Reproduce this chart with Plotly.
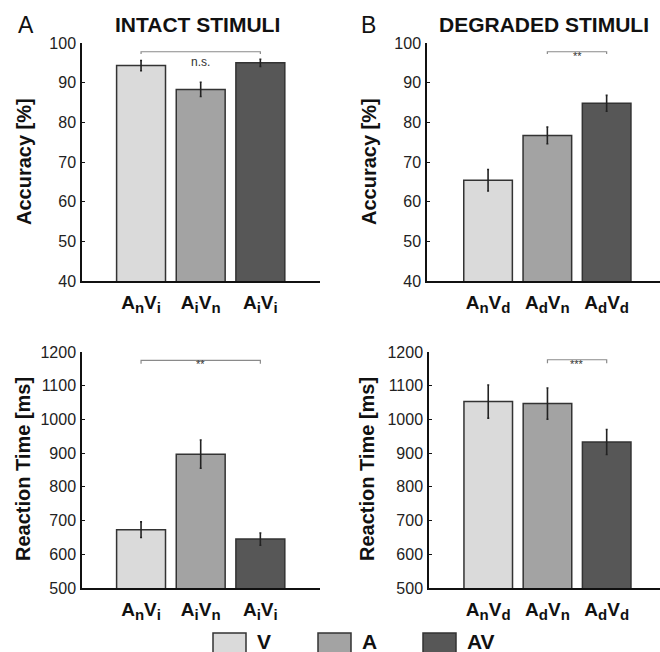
import plotly.graph_objects as go

# ---------------- data ----------------
cond_intact = [("A", "n", "V", "i"), ("A", "i", "V", "n"), ("A", "i", "V", "i")]
cond_degraded = [("A", "n", "V", "d"), ("A", "d", "V", "n"), ("A", "d", "V", "d")]
positions = [0, 1, 2]

acc_intact = [94.3, 88.3, 95.0]
acc_intact_err = [1.3, 1.8, 0.9]
acc_degraded = [65.4, 76.7, 84.8]
acc_degraded_err = [2.7, 2.1, 2.0]
rt_intact = [673, 897, 645]
rt_intact_err = [23, 42, 18]
rt_degraded = [1053, 1047, 933]
rt_degraded_err = [49, 46, 37]

legend_labels = ["V", "A", "AV"]
bar_colors = ["#dadada", "#a3a3a3", "#575757"]

acc_ticks = [40, 50, 60, 70, 80, 90, 100]
rt_ticks = [500, 600, 700, 800, 900, 1000, 1100, 1200]

# significance: (axis idx, from, to, bracket y, end y, label, label y)
sig = [
    (1, 0, 2, 97.8, 97.2, "n.s.", 95.3),
    (2, 1, 2, 97.8, 97.2, "**", 96.6),
    (3, 0, 2, 1175, 1165, "**", 1163),
    (4, 1, 2, 1177, 1167, "***", 1165),
]

W, H = 660, 652
FONT = "Liberation Sans, Arial, sans-serif"


def sublabel(parts):
    a, s1, b, s2 = parts
    sub = '<sub><span style="font-size:15px">{}</span></sub>'
    return a + sub.format(s1) + b + sub.format(s2)


def px_x(p):
    return p / W


def px_y(p):
    return 1 - p / H


fig = go.Figure()

panels = [
    (1, positions, acc_intact, acc_intact_err),
    (2, positions, acc_degraded, acc_degraded_err),
    (3, positions, rt_intact, rt_intact_err),
    (4, positions, rt_degraded, rt_degraded_err),
]

for idx, xs, ys, es in panels:
    sfx = "" if idx == 1 else str(idx)
    fig.add_trace(go.Bar(
        x=xs, y=ys, width=0.82,
        marker=dict(color=bar_colors, line=dict(color="#333333", width=1.5)),
        error_y=dict(type="data", array=es, visible=True, color="#222222",
                     thickness=1.6, width=1),
        xaxis="x" + sfx, yaxis="y" + sfx, showlegend=False, hoverinfo="skip",
    ))

# axis domains (pixels)
dom = {
    1: dict(x=(82, 320), y=(43, 281), xr=[-0.99, 3.0]),
    2: dict(x=(427, 660), y=(43, 281), xr=[-1.03, 2.9]),
    3: dict(x=(82, 320), y=(352, 588), xr=[-0.99, 3.0]),
    4: dict(x=(429, 660), y=(352, 588), xr=[-1.0, 2.9]),
}

for idx, d in dom.items():
    sfx = "" if idx == 1 else str(idx)
    labels = cond_intact if idx in (1, 3) else cond_degraded
    ticks = acc_ticks if idx in (1, 2) else rt_ticks
    yr = [40, 100] if idx in (1, 2) else [500, 1200]
    fig.update_layout(**{
        "xaxis" + sfx: dict(
            domain=[px_x(d["x"][0]), px_x(d["x"][1])], range=d["xr"],
            anchor="y" + sfx, showline=True, linecolor="#111111", linewidth=1.5,
            showgrid=False, zeroline=False, ticks="",
            tickvals=positions, ticktext=[sublabel(l) for l in labels],
            tickfont=dict(family=FONT, size=19, color="#111111", weight="bold"),
            ticklabelstandoff=3, fixedrange=True, automargin=False,
        ),
        "yaxis" + sfx: dict(
            domain=[px_y(d["y"][1]), px_y(d["y"][0])], range=yr,
            anchor="x" + sfx, showline=True, linecolor="#111111", linewidth=1.5,
            showgrid=False, zeroline=False, ticks="inside", ticklen=3,
            tickwidth=1.2, tickcolor="#111111",
            tickvals=ticks, ticktext=[str(t) for t in ticks],
            tickfont=dict(family=FONT, size=16, color="#222222"),
            ticklabelstandoff=1, fixedrange=True, automargin=False,
        ),
    })

shapes = []
annotations = []
for idx, x0, x1, yb, ye, lab, ly in sig:
    sfx = "" if idx == 1 else str(idx)
    shapes.append(dict(
        type="path", xref="x" + sfx, yref="y" + sfx,
        path=f"M {x0},{ye} L {x0},{yb} L {x1},{yb} L {x1},{ye}",
        line=dict(color="#8a8a8a", width=1.2),
    ))
    annotations.append(dict(
        x=(x0 + x1) / 2, y=ly, xref="x" + sfx, yref="y" + sfx, text=lab,
        showarrow=False, font=dict(family=FONT, size=12 if lab == "n.s." else 11, color="#333333"),
    ))

# y-axis titles
for text, xc, yc in [("Accuracy [%]", 24, 162), ("Accuracy [%]", 369, 162),
                     ("Reaction Time [ms]", 23, 469), ("Reaction Time [ms]", 367, 469)]:
    annotations.append(dict(
        x=px_x(xc), y=px_y(yc), xref="paper", yref="paper", text=text, textangle=-90,
        showarrow=False, xanchor="center", yanchor="middle",
        font=dict(family=FONT, size=20, color="#111111", weight="bold"),
    ))

# panel titles & letters
for text, xc, yc, size, bold in [("INTACT STIMULI", 197, 24, 21, True),
                                 ("DEGRADED STIMULI", 544, 24, 21, True),
                                 ("A", 26, 25, 23, False), ("B", 368, 25, 23, False)]:
    annotations.append(dict(
        x=px_x(xc), y=px_y(yc), xref="paper", yref="paper", text=text,
        showarrow=False, xanchor="center", yanchor="middle",
        font=dict(family=FONT, size=size, color="#111111", weight="bold" if bold else "normal"),
    ))

# legend
leg_x = [213, 318, 423]
for lab, col, lx in zip(legend_labels, bar_colors, leg_x):
    shapes.append(dict(
        type="rect", xref="paper", yref="paper",
        x0=px_x(lx), x1=px_x(lx + 33), y0=px_y(666), y1=px_y(633),
        fillcolor=col, line=dict(color="#333333", width=1.5),
    ))
    annotations.append(dict(
        x=px_x(lx + 42), y=px_y(641), xref="paper", yref="paper", text=lab,
        showarrow=False, xanchor="left", yanchor="middle",
        font=dict(family=FONT, size=21, color="#111111", weight="bold"),
    ))

fig.update_layout(
    width=W, height=H, margin=dict(l=0, r=0, t=0, b=0, pad=0, autoexpand=False),
    paper_bgcolor="white", plot_bgcolor="white",
    shapes=shapes, annotations=annotations, showlegend=False,
)

fig.write_html(
    "out.html",
    config={"displayModeBar": False},
    post_script="document.body.style.margin='0';document.body.style.overflow='hidden';",
)
